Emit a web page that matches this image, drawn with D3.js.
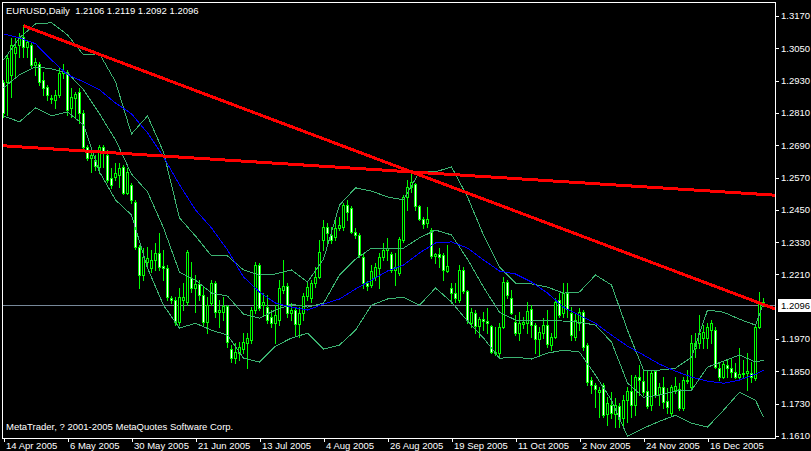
<!DOCTYPE html>
<html><head><meta charset="utf-8">
<script src="https://cdn.jsdelivr.net/npm/d3@7"></script>
<style>
html,body{margin:0;padding:0;background:#000;overflow:hidden;}
svg{display:block;}
text{font-family:"Liberation Sans",Arial,sans-serif;}
</style></head><body>
<svg id="chart" width="811" height="451"></svg>
<script>
// ---------- data ----------
const symbolTitle = "EURUSD,Daily";
const lastQuote = ["1.2106", "1.2119", "1.2092", "1.2096"];
const copyrightText = "MetaTrader, ? 2001-2005 MetaQuotes Software Corp.";
const bidPrice = 1.2096;

const opens = [1.2924,1.2924,1.2950,1.3031,1.3061,1.3091,1.3054,1.3061,1.2987,1.2990,
1.2931,1.2905,1.2864,1.2857,1.2875,1.2957,1.2961,1.2827,1.2864,1.2886,
1.2808,1.2682,1.2641,1.2634,1.2608,1.2682,1.2652,1.2567,1.2570,1.2578,
1.2608,1.2511,1.2541,1.2477,1.2310,1.2206,1.2254,1.2232,1.2262,1.2288,
1.2239,1.2232,1.2120,1.2113,1.2031,1.2113,1.2106,1.2195,1.2158,1.2173,
1.2132,1.2031,1.2102,1.2176,1.2068,1.2068,1.2091,1.1931,1.1897,1.1916,
1.1931,1.1953,1.1964,1.2076,1.2243,1.2094,1.2087,1.2050,1.2027,1.2039,
1.2150,1.2165,1.2065,1.2076,1.2024,1.2065,1.2128,1.2120,1.2176,1.2199,
1.2336,1.2384,1.2355,1.2347,1.2381,1.2384,1.2466,1.2455,1.2366,1.2355,
1.2273,1.2176,1.2169,1.2199,1.2232,1.2273,1.2299,1.2284,1.2225,1.2213,
1.2336,1.2496,1.2533,1.2544,1.2463,1.2414,1.2399,1.2373,1.2277,1.2284,
1.2280,1.2221,1.2158,1.2139,1.2113,1.2225,1.2147,1.2027,1.2065,1.2016,
1.2042,1.2035,1.2016,1.1920,1.1916,1.2013,1.2180,1.2120,1.2031,1.1990,
1.2024,1.2027,1.2080,1.2020,1.1968,1.1990,1.2020,1.1946,1.1976,1.2113,
1.2065,1.2139,1.2065,1.1976,1.2027,1.2068,1.1946,1.1816,1.1797,1.1771,
1.1797,1.1689,1.1723,1.1689,1.1719,1.1674,1.1741,1.1775,1.1723,1.1827,
1.1812,1.1775,1.1723,1.1849,1.1764,1.1790,1.1738,1.1693,1.1778,1.1782,
1.1712,1.1816,1.1790,1.1935,1.1953,1.1972,1.1972,1.2001,1.2001,1.1860,
1.1827,1.1871,1.1860,1.1845,1.1827,1.1838,1.1842,1.1842,1.1823,1.2013,
1.2106];
const highs = [1.2931,1.3024,1.3087,1.3087,1.3106,1.3135,1.3080,1.3069,1.3013,1.2998,
1.2961,1.2912,1.2875,1.2894,1.2979,1.2990,1.2968,1.2901,1.2886,1.2901,
1.2819,1.2689,1.2663,1.2652,1.2689,1.2689,1.2671,1.2604,1.2622,1.2622,
1.2615,1.2604,1.2548,1.2485,1.2318,1.2306,1.2310,1.2299,1.2325,1.2362,
1.2299,1.2243,1.2128,1.2124,1.2158,1.2176,1.2299,1.2254,1.2206,1.2187,
1.2161,1.2124,1.2187,1.2184,1.2113,1.2124,1.2094,1.1946,1.1953,1.1957,
1.1990,1.1990,1.2087,1.2254,1.2251,1.2139,1.2132,1.2076,1.2094,1.2187,
1.2262,1.2176,1.2102,1.2087,1.2087,1.2139,1.2176,1.2187,1.2236,1.2336,
1.2410,1.2399,1.2384,1.2418,1.2422,1.2474,1.2485,1.2463,1.2381,1.2362,
1.2288,1.2184,1.2243,1.2251,1.2288,1.2325,1.2344,1.2292,1.2288,1.2347,
1.2503,1.2559,1.2589,1.2548,1.2466,1.2422,1.2459,1.2381,1.2288,1.2306,
1.2288,1.2318,1.2176,1.2176,1.2243,1.2236,1.2150,1.2083,1.2076,1.2050,
1.2068,1.2083,1.2020,1.2013,1.2027,1.2199,1.2187,1.2150,1.2057,1.2068,
1.2050,1.2106,1.2094,1.2027,1.2013,1.2046,1.2076,1.1990,1.2120,1.2139,
1.2176,1.2176,1.2087,1.2065,1.2083,1.2076,1.1953,1.1827,1.1804,1.1790,
1.1804,1.1752,1.1771,1.1749,1.1730,1.1760,1.1790,1.1834,1.1834,1.1871,
1.1853,1.1853,1.1853,1.1853,1.1804,1.1827,1.1786,1.1797,1.1827,1.1804,
1.1827,1.1853,1.1983,1.1990,1.2057,1.2020,1.2027,1.2039,1.2013,1.1879,
1.1883,1.1890,1.1897,1.1879,1.1935,1.1890,1.1916,1.1883,1.2020,1.2143,
1.2119];
const lows = [1.2793,1.2801,1.2868,1.2942,1.3017,1.3017,1.3017,1.2979,1.2950,1.2912,
1.2875,1.2857,1.2845,1.2827,1.2868,1.2938,1.2801,1.2793,1.2790,1.2771,
1.2671,1.2634,1.2589,1.2596,1.2585,1.2608,1.2552,1.2530,1.2559,1.2533,
1.2507,1.2507,1.2474,1.2303,1.2158,1.2187,1.2236,1.2217,1.2225,1.2225,
1.2187,1.2113,1.2102,1.2020,1.2020,1.2076,1.2094,1.2143,1.2068,1.2113,
1.2020,1.1990,1.2094,1.2050,1.2013,1.2039,1.1938,1.1883,1.1879,1.1890,
1.1916,1.1860,1.1953,1.2065,1.2076,1.2057,1.2027,1.2013,1.1953,1.2020,
1.2139,1.2050,1.2039,1.1983,1.1976,1.2039,1.2113,1.2106,1.2161,1.2195,
1.2299,1.2318,1.2325,1.2336,1.2373,1.2373,1.2410,1.2362,1.2344,1.2273,
1.2158,1.2150,1.2161,1.2187,1.2158,1.2262,1.2262,1.2217,1.2169,1.2206,
1.2329,1.2448,1.2515,1.2448,1.2410,1.2381,1.2384,1.2269,1.2251,1.2236,
1.2187,1.2217,1.2102,1.2106,1.2106,1.2139,1.2027,1.2013,1.1990,1.1976,
1.2001,1.1990,1.1916,1.1909,1.1897,1.2009,1.2120,1.2061,1.1983,1.1964,
1.2009,1.1990,1.1976,1.1916,1.1909,1.1972,1.1938,1.1927,1.1972,1.2050,
1.2050,1.2050,1.1964,1.1964,1.2001,1.1927,1.1797,1.1767,1.1715,1.1678,
1.1678,1.1648,1.1674,1.1641,1.1641,1.1641,1.1659,1.1678,1.1685,1.1760,
1.1760,1.1712,1.1704,1.1752,1.1723,1.1712,1.1693,1.1685,1.1767,1.1704,
1.1704,1.1804,1.1786,1.1901,1.1935,1.1935,1.1935,1.1953,1.1860,1.1816,
1.1823,1.1827,1.1827,1.1823,1.1816,1.1823,1.1778,1.1808,1.1816,1.2009,
1.2092];
const closes = [1.2808,1.3013,1.3061,1.3054,1.3091,1.3054,1.3072,1.2987,1.2998,1.2924,
1.2901,1.2875,1.2860,1.2875,1.2957,1.2964,1.2819,1.2868,1.2879,1.2808,
1.2682,1.2641,1.2652,1.2611,1.2682,1.2663,1.2559,1.2541,1.2585,1.2604,
1.2511,1.2589,1.2485,1.2310,1.2206,1.2273,1.2269,1.2262,1.2288,1.2236,
1.2232,1.2124,1.2113,1.2031,1.2124,1.2124,1.2292,1.2158,1.2173,1.2132,
1.2031,1.2094,1.2176,1.2068,1.2076,1.2091,1.1957,1.1897,1.1920,1.1938,
1.1957,1.1972,1.2076,1.2243,1.2083,1.2106,1.2039,1.2027,1.2057,1.2158,
1.2165,1.2065,1.2076,1.2024,1.2065,1.2128,1.2161,1.2176,1.2199,1.2292,
1.2384,1.2362,1.2336,1.2381,1.2392,1.2466,1.2440,1.2366,1.2355,1.2280,
1.2176,1.2165,1.2221,1.2236,1.2273,1.2299,1.2306,1.2225,1.2236,1.2340,
1.2496,1.2533,1.2552,1.2463,1.2414,1.2396,1.2414,1.2277,1.2284,1.2273,
1.2225,1.2239,1.2139,1.2120,1.2225,1.2147,1.2039,1.2068,1.2016,1.2042,
1.2035,1.2027,1.1920,1.1916,1.2013,1.2180,1.2132,1.2065,1.1990,1.2027,
1.2031,1.2072,1.2020,1.1968,1.1994,1.2020,1.1949,1.1976,1.2106,1.2057,
1.2139,1.2080,1.1983,1.2039,1.2068,1.1938,1.1808,1.1797,1.1782,1.1778,
1.1685,1.1730,1.1693,1.1723,1.1671,1.1741,1.1775,1.1723,1.1827,1.1816,
1.1771,1.1719,1.1842,1.1760,1.1790,1.1734,1.1715,1.1790,1.1793,1.1712,
1.1816,1.1812,1.1953,1.1953,1.1990,1.1994,1.2013,1.2027,1.1864,1.1827,
1.1875,1.1860,1.1845,1.1827,1.1838,1.1842,1.1849,1.1827,1.2013,1.2106,
1.2096];

// Bollinger bands and moving average, read at every 4th bar (plus the last bar)
const indicatorBars = [0,4,8,12,16,20,24,28,32,36,40,44,48,52,56,60,64,68,72,76,80,84,88,92,96,
100,104,108,112,116,120,124,128,132,136,140,144,148,152,156,160,164,168,172,176,180,184,188,190];
const bandUpper = [1.3005,1.3087,1.3139,1.3143,1.3098,1.3024,1.3028,1.2924,1.2730,1.2797,
1.2663,1.2418,1.2351,1.2277,1.2277,1.2225,1.2206,1.2210,1.2225,1.2180,
1.2265,1.2466,1.2530,1.2518,1.2496,1.2485,1.2589,1.2589,1.2608,1.2496,
1.2355,1.2236,1.2176,1.2173,1.2161,1.2139,1.2143,1.2206,1.2169,1.2001,
1.1853,1.1853,1.1860,1.1901,1.2076,1.2068,1.2042,1.2020,1.2102];
const bandMiddle = [1.2901,1.2950,1.2979,1.2972,1.2957,1.2894,1.2805,1.2708,1.2581,1.2515,
1.2381,1.2217,1.2187,1.2139,1.2128,1.2061,1.2046,1.2076,1.2098,1.2087,
1.2102,1.2206,1.2265,1.2306,1.2306,1.2306,1.2344,1.2373,1.2355,1.2265,
1.2161,1.2068,1.2039,1.2035,1.2039,1.2035,1.2031,1.2020,1.1957,1.1805,
1.1752,1.1760,1.1775,1.1778,1.1864,1.1886,1.1909,1.1883,1.1890];
const bandLower = [1.2797,1.2775,1.2827,1.2797,1.2812,1.2764,1.2589,1.2485,1.2429,1.2232,
1.2094,1.2009,1.2027,1.2001,1.1983,1.1897,1.1883,1.1942,1.1972,1.1990,
1.1931,1.1946,1.2001,1.2094,1.2117,1.2124,1.2094,1.2158,1.2106,1.2035,
1.1972,1.1897,1.1901,1.1894,1.1916,1.1927,1.1920,1.1834,1.1741,1.1607,
1.1637,1.1663,1.1685,1.1656,1.1641,1.1704,1.1771,1.1741,1.1678];
const maValues = [1.3102,1.3087,1.3065,1.3005,1.2950,1.2924,1.2894,1.2845,1.2805,1.2734,
1.2645,1.2541,1.2448,1.2381,1.2299,1.2199,1.2143,1.2102,1.2087,1.2076,
1.2098,1.2117,1.2154,1.2187,1.2221,1.2243,1.2288,1.2325,1.2329,1.2306,
1.2262,1.2221,1.2210,1.2180,1.2139,1.2087,1.2057,1.2027,1.1983,1.1942,
1.1909,1.1875,1.1849,1.1827,1.1812,1.1804,1.1816,1.1838,1.1853];

// trend lines: anchor points [bar index, price]
const trendSteep = [[5, 1.3132], [102, 1.2589]];   // ray to the right
const trendFlat  = [[0, 1.2686], [102, 1.2589]];   // line across the chart

const xTickBars = [0,16,32,48,64,80,96,112,128,144,160,176];
const xTickLabels = ["14 Apr 2005","6 May 2005","30 May 2005","21 Jun 2005","13 Jul 2005","4 Aug 2005",
"26 Aug 2005","19 Sep 2005","11 Oct 2005","2 Nov 2005","24 Nov 2005","16 Dec 2005"];
const yTickValues = [1.3170,1.3050,1.2930,1.2810,1.2690,1.2570,1.2450,1.2330,1.2210,1.1970,1.1850,1.1730,1.1610];

// ---------- drawing ----------
const svg = d3.select("#chart");
const frame = {left: 2.5, top: 2.5, right: 775.5, bottom: 438.5};
const C = {bg:"#000000", fg:"#FFFFFF", candle:"#00FF00", band:"#3CB371", ma:"#0000FF", trend:"#FF0000", bid:"#778899"};

svg.append("rect").attr("width", 811).attr("height", 451).attr("fill", C.bg);

const x = d3.scaleLinear().domain([0, 190]).range([3.5, 763.5]);
const y = d3.scaleLinear().domain([1.1610, 1.3170]).range([435.5, 15.5]);

svg.append("clipPath").attr("id", "plotclip").append("rect")
  .attr("x", 3).attr("y", 3).attr("width", 772).attr("height", 435);
const plot = svg.append("g").attr("clip-path", "url(#plotclip)");

// bid line
const yb = Math.round(y(bidPrice)) + 0.5;
plot.append("line").attr("x1", 3).attr("x2", 775).attr("y1", yb).attr("y2", yb)
  .attr("stroke", C.bid).attr("stroke-width", 1).attr("shape-rendering", "crispEdges");

// candles
const bars = d3.range(opens.length).map(i => ({i, o: opens[i], h: highs[i], l: lows[i], c: closes[i]}));
const cg = plot.append("g").attr("shape-rendering", "crispEdges");
bars.forEach(b => {
  const cx = x(b.i);
  const yh = Math.round(y(b.h)), yl = Math.round(y(b.l));
  cg.append("rect").attr("x", cx - 0.5).attr("y", yh).attr("width", 1)
    .attr("height", Math.max(1, yl - yh + 1)).attr("fill", C.candle);
  const top = Math.round(y(Math.max(b.o, b.c))), bot = Math.round(y(Math.min(b.o, b.c)));
  cg.append("rect").attr("x", cx - 1.5).attr("y", top).attr("width", 3)
    .attr("height", Math.max(1, bot - top + 1)).attr("fill", C.candle);
  if (bot - top >= 2) {
    cg.append("rect").attr("x", cx - 0.5).attr("y", top + 1).attr("width", 1)
      .attr("height", bot - top - 1).attr("fill", b.c < b.o ? "#FFFFFF" : "#000000");
  }
});

// indicators
const lineGen = d3.line().x(d => x(d[0])).y(d => y(d[1]));
[bandUpper, bandMiddle, bandLower].forEach(arr => {
  plot.append("path").datum(indicatorBars.map((b, k) => [b, arr[k]]))
    .attr("d", lineGen).attr("fill", "none").attr("stroke", C.band).attr("stroke-width", 1)
    .attr("shape-rendering", "crispEdges");
});
plot.append("path").datum(indicatorBars.map((b, k) => [b, maValues[k]]))
  .attr("d", lineGen).attr("fill", "none").attr("stroke", C.ma).attr("stroke-width", 1)
  .attr("shape-rendering", "crispEdges");

// trend lines
function lineAt(anchors, px) {
  const [a, b] = anchors;
  const x1 = x(a[0]), y1 = y(a[1]), x2 = x(b[0]), y2 = y(b[1]);
  return y1 + (y2 - y1) * (px - x1) / (x2 - x1);
}
const steepStart = x(trendSteep[0][0]);
plot.append("line").attr("x1", steepStart).attr("y1", lineAt(trendSteep, steepStart))
  .attr("x2", 776).attr("y2", lineAt(trendSteep, 776))
  .attr("stroke", C.trend).attr("stroke-width", 3).attr("shape-rendering", "crispEdges");
plot.append("line").attr("x1", 2).attr("y1", lineAt(trendFlat, 2))
  .attr("x2", 776).attr("y2", lineAt(trendFlat, 776))
  .attr("stroke", C.trend).attr("stroke-width", 3).attr("shape-rendering", "crispEdges");

// frame
svg.append("rect").attr("x", frame.left).attr("y", frame.top)
  .attr("width", frame.right - frame.left).attr("height", frame.bottom - frame.top)
  .attr("fill", "none").attr("stroke", C.fg).attr("stroke-width", 1).attr("shape-rendering", "crispEdges");

// right axis
const yAxis = d3.axisRight(y).tickValues(yTickValues).tickSize(3).tickPadding(2)
  .tickFormat(d3.format(".4f"));
const ya = svg.append("g").attr("transform", `translate(${frame.right},0)`).call(yAxis);
ya.select(".domain").remove();
ya.selectAll("line").attr("stroke", C.fg).attr("shape-rendering", "crispEdges")
  .attr("transform", "translate(0,0.5)");
ya.selectAll("text").attr("fill", C.fg).style("font-size", "9.5px").attr("dy", "0.36em")
  .attr("x", 5.5);

// current price label
const pg = svg.append("g");
pg.append("rect").attr("x", 778).attr("y", yb - 6.5).attr("width", 33).attr("height", 13).attr("fill", C.fg);
pg.append("text").attr("x", 781).attr("y", yb).attr("dy", "0.36em").attr("fill", "#000")
  .style("font-size", "9.5px").text(d3.format(".4f")(bidPrice));

// bottom axis
const xAxis = d3.axisBottom(x).tickValues(xTickBars).tickSize(3).tickPadding(1)
  .tickFormat((d, i) => xTickLabels[i]);
const xa = svg.append("g").attr("transform", `translate(0,${frame.bottom})`).call(xAxis);
xa.select(".domain").remove();
xa.selectAll("line").attr("stroke", C.fg).attr("shape-rendering", "crispEdges");
xa.selectAll("text").attr("fill", C.fg).style("font-size", "9.5px")
  .attr("text-anchor", "start").attr("x", 2);

// title and copyright
svg.append("text").attr("x", 6).attr("y", 14).attr("fill", C.fg).style("font-size", "9.5px")
  .attr("xml:space", "preserve")
  .text(symbolTitle + "  " + lastQuote.join(" "));
svg.append("text").attr("x", 6).attr("y", 430).attr("fill", C.fg).style("font-size", "9.5px")
  .text(copyrightText);
</script>
</body></html>
